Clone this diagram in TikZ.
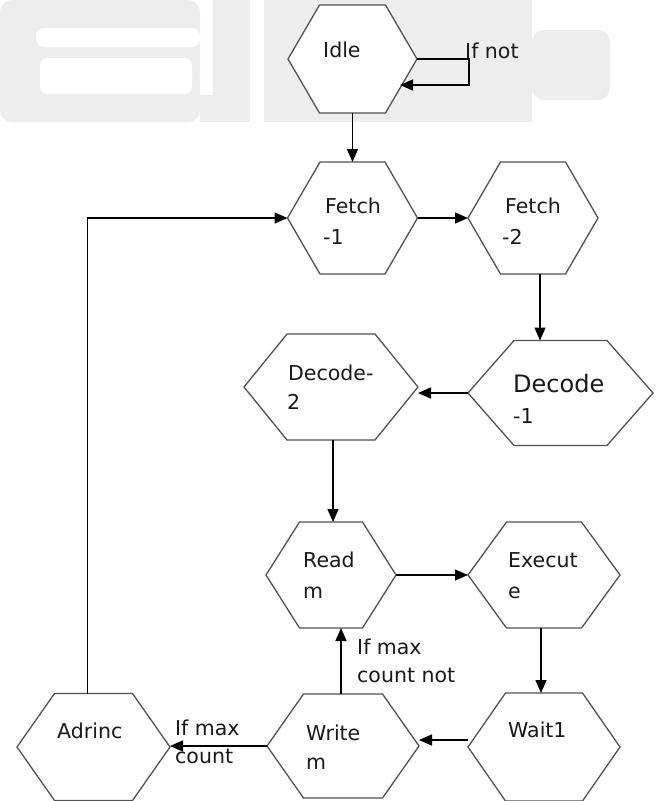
\documentclass[tikz,border=0pt]{standalone}
\usepackage{fontspec}
\setmainfont{DejaVu Sans}
\usetikzlibrary{arrows.meta,calc}
\tikzset{
  hexanchor/.style={draw=none, inner sep=0pt, outer sep=0pt, shape=rectangle},
  hexline/.style={draw=black!68, line width=1.3pt, fill=white, line join=miter},
  conn/.style={draw=black, line width=1.4pt, -{Triangle[length=13pt,width=11pt]}},
  txt/.style={anchor=base west, inner sep=0pt, text=black!90, font=\fontsize{20.5}{24}\selectfont},
  bigtxt/.style={txt, font=\fontsize{24}{28}\selectfont},
  wmark/.style={fill=black!7, draw=none},
}
\newcommand{\hexnode}[6]{%
  \node[hexanchor, minimum width={2*#4pt}, minimum height={2*#5pt}] (#1) at (#2,#3) {};
  \draw[hexline] (#1.west) -- ([xshift=-#6pt]#1.north) -- ([xshift=#6pt]#1.north)
     -- (#1.east) -- ([xshift=#6pt]#1.south) -- ([xshift=-#6pt]#1.south) -- cycle;
}
\begin{document}
\begin{tikzpicture}[x=1pt,y=-1pt]
\useasboundingbox[fill=white] (0,0) rectangle (665,801);
% faint watermark
\fill[wmark, rounded corners=12pt] (0,0) rectangle (200,122);
\fill[wmark] (200,95) rectangle (238,122);
\fill[white, rounded corners=8pt] (36,28) rectangle (200,47);
\fill[white, rounded corners=8pt] (40,58) rectangle (192,94);
\fill[wmark] (213,0) rectangle (250,122);
\fill[wmark] (264,0) rectangle (532,122);
\fill[wmark, rounded corners=12pt] (532,30) rectangle (610,100);
% hexagons
\hexnode{idle}{352.5}{59}{64.5}{54}{33}
\hexnode{f1}{352.5}{218}{65}{56}{32.5}
\hexnode{f2}{533}{218}{65}{56}{32.5}
\hexnode{d1}{560.5}{393}{92.5}{52.5}{46.5}
\hexnode{d2}{331}{387}{87}{53}{44}
\hexnode{rm}{331}{575}{65}{53}{31.5}
\hexnode{ex}{544}{575}{76}{53}{37.5}
\hexnode{wm}{343}{746}{76}{52}{39.5}
\hexnode{w1}{544}{747}{76}{54}{38.5}
\hexnode{ad}{93.5}{747}{76.5}{53.5}{39}
% texts
\node[txt] (tidle) at (323,57) {Idle};
\node[txt] (tf1a) at (325,213) {Fetch};
\node[txt] (tf1b) at (323,244) {-1};
\node[txt] (tf2a) at (505,213) {Fetch};
\node[txt] (tf2b) at (502,244) {-2};
\node[txt] (td2a) at (288,380) {Decode-};
\node[txt] (td2b) at (287,409) {2};
\node[bigtxt] (td1a) at (513,392) {Decode};
\node[txt] (td1b) at (513,423) {-1};
\node[txt] (trma) at (303,567) {Read};
\node[txt] (trmb) at (303,598) {m};
\node[txt] (texa) at (508,567) {Execut};
\node[txt] (texb) at (508,598) {e};
\node[txt] (twma) at (306,740) {Write};
\node[txt] (twmb) at (306,769) {m};
\node[txt] (tw1) at (508,737) {Wait1};
\node[txt] (tad) at (57,738) {Adrinc};
% connector labels
\node[txt] (lnot) at (465,58) {If not};
\node[txt] (lmax1) at (175,735) {If max};
\node[txt] (lmax2) at (175,763) {count};
\node[txt] (lnot1) at (357,654) {If max};
\node[txt] (lnot2) at (357,682) {count not};
% connectors
\coordinate (loopR) at (469,59);
\coordinate (loopB) at (469,85);
\coordinate (loopT) at (400,85);
\draw[conn] (idle.east) -- (loopR) -- (loopB) -- (loopT);
\draw[conn] (idle.south) -- (f1.north);
\draw[conn] (f1.east) -- (f2.west);
\draw[conn] ([xshift=7pt]f2.south) -- ([xshift=7pt]f2.south |- d1.north);
\draw[conn] (d1.west) -- (d1.west -| d2.east);
\draw[conn] ([xshift=2pt]d2.south) -- ([xshift=2pt]d2.south |- rm.north);
\draw[conn] (rm.east) -- (ex.west);
\draw[conn] ([xshift=-3pt]ex.south) -- ([xshift=-3pt]ex.south |- w1.north);
\draw[conn] ([yshift=7pt]w1.west) -- ([yshift=7pt]w1.west -| wm.east);
\draw[conn] ([xshift=-2pt]wm.north) -- ([xshift=-2pt]wm.north |- rm.south);
\draw[conn] (wm.west) -- (wm.west -| ad.east);
\draw[conn] ([xshift=-6pt]ad.north) |- (f1.west);
\end{tikzpicture}
\end{document}
